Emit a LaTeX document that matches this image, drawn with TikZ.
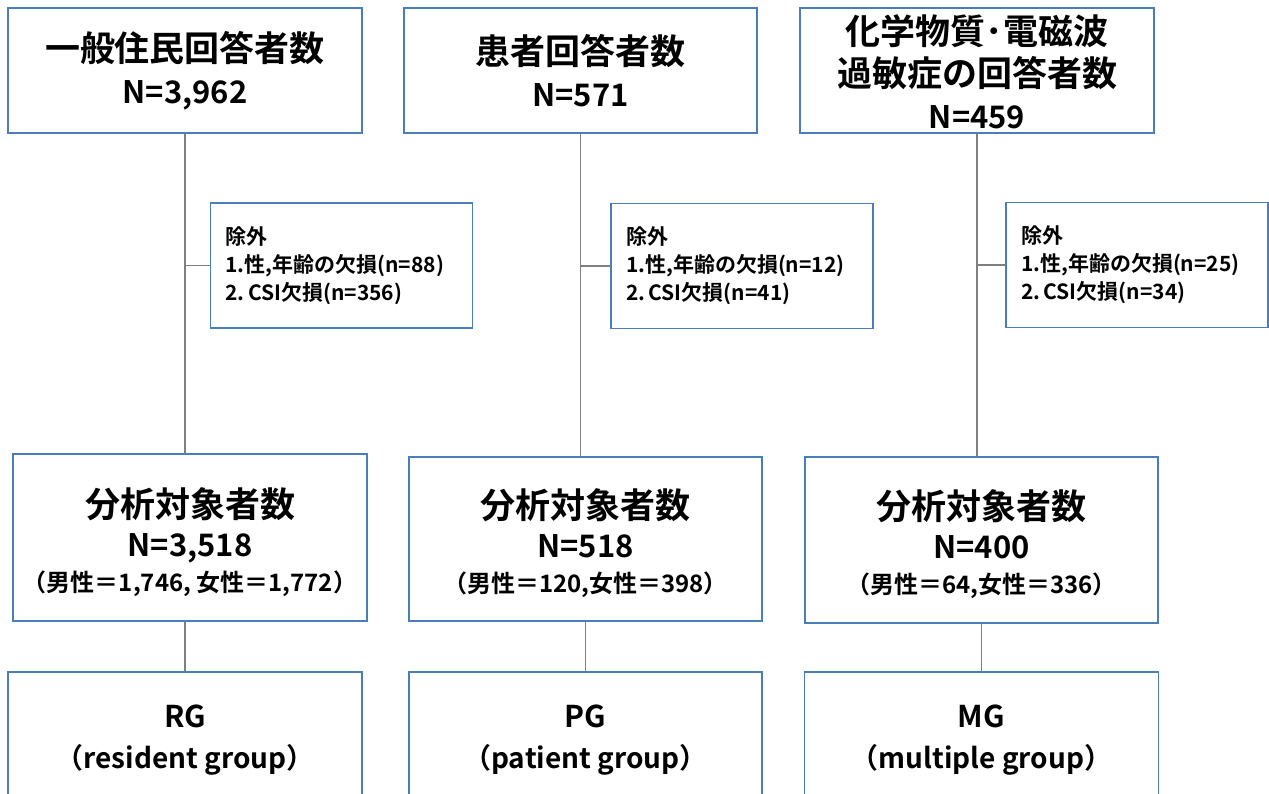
\documentclass[tikz,border=0pt]{standalone}
\usepackage{fontspec}
\setmainfont{Noto Sans CJK JP}[BoldFont={Noto Sans CJK JP Bold}]
\definecolor{boxblue}{HTML}{4A7EBB}
\definecolor{linegray}{HTML}{7F7F7F}
\begin{document}
\begin{tikzpicture}[x=1pt,y=-1pt,
  box/.style={draw=boxblue, line width=1.4pt, inner sep=0pt, align=center, minimum width=354pt},
  lbl/.style={inner sep=0pt, align=center},
  exbox/.style={draw=boxblue, line width=1.4pt, inner xsep=15pt, inner ysep=0pt, align=left, text width=232pt, minimum height=125pt, font=\fontsize{21}{28}\selectfont\bfseries},
  conn/.style={draw=linegray, line width=1.2pt},
  big/.style={font=\fontsize{35}{42}\selectfont\bfseries},
  grp/.style={font=\fontsize{28}{41}\selectfont\bfseries}]
\useasboundingbox (0,0) rectangle (1269,793);
\clip (0,0) rectangle (1269,793);
% top boxes
\node[box, big, minimum height=125pt] (top1) at (185,70.5) {一般住民回答者数\\{\fontsize{31}{42}\selectfont N=3,962}};
\node[box, big, minimum height=125pt, minimum width=353pt] (top2) at (580.5,70.5) {患者回答者数\\{\fontsize{31}{42}\selectfont N=571}};
\node[box, minimum height=125pt] (top3) at (977,70.5) {};
\node[lbl, big] (top3t) at ([yshift=-1.5pt]top3.center) {化学物質･電磁波\\過敏症の回答者数\\{\fontsize{31}{42}\selectfont N=459}};
% exclusion boxes
\node[exbox] (ex1) at (341.5,265.5) {除外\\1.性,年齢の欠損(n=88)\\2.\,CSI欠損(n=356)};
\node[exbox] (ex2) at (742,266) {除外\\1.性,年齢の欠損(n=12)\\2.\,CSI欠損(n=41)};
\node[exbox] (ex3) at (1137,265) {除外\\1.性,年齢の欠損(n=25)\\2.\,CSI欠損(n=34)};
% middle boxes
\node[box, minimum height=167pt] (mid1) at (190,537.5) {};
\node[box, minimum height=164pt, minimum width=353pt] (mid2) at (585.5,539) {};
\node[box, minimum height=166pt, minimum width=353pt] (mid3) at (981.5,540) {};
\node[lbl, big] (mid1t) at ([yshift=-4.5pt]mid1.center) {分析対象者数\\[-3pt]{\fontsize{31}{42}\selectfont N=3,518}\\[-7pt]{\fontsize{24}{28}\selectfont （男性＝1,746, 女性＝1,772）}};
\node[lbl, big] (mid2t) at ([yshift=-4.5pt]mid2.center) {分析対象者数\\[-3pt]{\fontsize{31}{42}\selectfont N=518}\\[-7pt]{\fontsize{24}{28}\selectfont （男性＝120,女性＝398）}};
\node[lbl, big] (mid3t) at ([yshift=-4.5pt]mid3.center) {分析対象者数\\[-3pt]{\fontsize{31}{42}\selectfont N=400}\\[-7pt]{\fontsize{24}{28}\selectfont （男性＝64,女性＝336）}};
% bottom boxes
\node[box, grp, minimum height=136pt] (bot1) at (185,740) {{\fontsize{30}{41}\selectfont RG}\\（resident group）};
\node[box, grp, minimum height=136pt, minimum width=353pt] (bot2) at (585.5,740) {{\fontsize{30}{41}\selectfont PG}\\（patient group）};
\node[box, grp, minimum height=136pt] (bot3) at (981.5,740) {{\fontsize{30}{41}\selectfont MG}\\（multiple group）};
% connectors
\draw[conn] (top1.south) -- (top1.south |- mid1.north);
\draw[conn] (top2.south) -- (top2.south |- mid2.north);
\draw[conn] (top3.south) -- (top3.south |- mid3.north);
\draw[conn] (ex1.west) -- (ex1.west -| top1.south);
\draw[conn] (ex2.west) -- (ex2.west -| top2.south);
\draw[conn] (ex3.west) -- (ex3.west -| top3.south);
\draw[conn] (bot1.north) -- (bot1.north |- mid1.south);
\draw[conn] (bot2.north) -- (bot2.north |- mid2.south);
\draw[conn] (bot3.north) -- (bot3.north |- mid3.south);
\end{tikzpicture}
\end{document}
